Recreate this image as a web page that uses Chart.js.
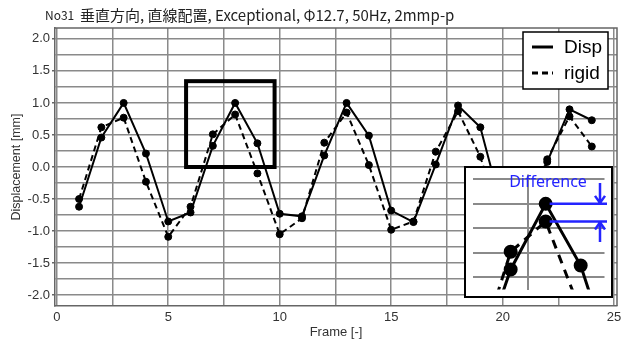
<!DOCTYPE html>
<html>
<head>
<meta charset="utf-8">
<script src="https://cdn.jsdelivr.net/npm/chart.js@4.4.1/dist/chart.umd.min.js"></script>
<style>
    html, body { margin: 0; padding: 0; background: #fff; }
    #wrap { position: relative; width: 628px; height: 345px; }
    #ChartInset { position: absolute; left: 464px; top: 166px; background: #fff; }
</style>
</head>
<body>
<div id="wrap">
    <canvas id="ChartMain" width="628" height="345"></canvas>
    <canvas id="ChartInset" width="149" height="132"></canvas>
</div>
<script>
// ---------------- data ------------------------
const frames = [1, 2, 3, 4, 5, 6, 7, 8, 9, 10, 11, 12, 13, 14, 15, 16, 17, 18, 19, 20, 21, 22, 23, 24];
const disp  = [-0.62, 0.46, 1.00, 0.21, -0.85, -0.71, 0.33, 1.00, 0.37, -0.73, -0.77, 0.18, 1.00, 0.49, -0.68, -0.86, 0.04, 0.96, 0.62, -0.70, -0.82, 0.08, 0.90, 0.73];
const rigid = [-0.50, 0.62, 0.77, -0.23, -1.09, -0.62, 0.51, 0.82, -0.10, -1.05, -0.80, 0.38, 0.85, 0.03, -0.98, -0.85, 0.24, 0.87, 0.16, -0.95, -0.80, 0.12, 0.79, 0.32];
const xTicks = [0, 5, 10, 15, 20, 25];
const yTicks = [-2.0, -1.5, -1.0, -0.5, 0.0, 0.5, 1.0, 1.5, 2.0];
const seriesNames = ['Disp', 'rigid'];
const titleSmall = 'No31';
const titleMain = '垂直方向, 直線配置, Exceptional, Φ12.7, 50Hz, 2mmp-p';
const diffLabel = 'Difference';
// zoomed region (data units)
const zoomBox = { x0: 5.8, x1: 9.77, y0: 0.0, y1: 1.34 };

const pts = (ys) => frames.map((f, i) => ({ x: f, y: ys[i] }));
const GRID = '#8a8a8a';

// ---------------- main chart ------------------------
const framePlugin = {
    id: 'frame',
    beforeDraw(chart) {
        const ctx = chart.ctx;
        ctx.save();
        ctx.fillStyle = '#222';
        ctx.textBaseline = 'middle';
        ctx.font = '12px "Noto Sans CJK JP"';
        ctx.fillText(titleSmall, 45, 15);
        ctx.font = '15px "Noto Sans CJK JP"';
        ctx.fillText(titleMain, 80, 15);
        ctx.restore();
    },
    afterDatasetsDraw(chart) {
        const { ctx, chartArea: a, scales: { x, y } } = chart;
        ctx.save();
        // plot frame top / right
        ctx.strokeStyle = '#666';
        ctx.lineWidth = 1.5;
        ctx.beginPath();
        ctx.moveTo(a.left, a.top); ctx.lineTo(a.right, a.top); ctx.lineTo(a.right, a.bottom);
        ctx.stroke();
        // zoom box
        ctx.strokeStyle = '#000';
        ctx.lineWidth = 4;
        const px0 = x.getPixelForValue(zoomBox.x0), px1 = x.getPixelForValue(zoomBox.x1);
        const py0 = y.getPixelForValue(zoomBox.y1), py1 = y.getPixelForValue(zoomBox.y0);
        ctx.strokeRect(px0, py0, px1 - px0, py1 - py0);
        ctx.restore();
    },
    afterDraw(chart) {
        // legend
        const ctx = chart.ctx;
        const lx = 523, ly = 32, lw = 85, lh = 57;
        ctx.save();
        ctx.fillStyle = '#fff';
        ctx.fillRect(lx, ly, lw, lh);
        ctx.strokeStyle = '#000';
        ctx.lineWidth = 1.5;
        ctx.strokeRect(lx, ly, lw, lh);
        ctx.font = '19px "Liberation Sans", Arial';
        ctx.textBaseline = 'middle';
        ctx.fillStyle = '#000';
        chart.data.datasets.forEach((ds, i) => {
            const yy = ly + 15 + i * 26;
            ctx.lineWidth = 3;
            ctx.setLineDash(ds.borderDash || []);
            ctx.beginPath();
            ctx.moveTo(lx + 9, yy); ctx.lineTo(lx + 30, yy);
            ctx.stroke();
            ctx.setLineDash([]);
            ctx.fillText(ds.label, lx + 41, yy + 1);
        });
        ctx.restore();
    }
};

new Chart(document.getElementById('ChartMain'), {
    type: 'line',
    data: {
        datasets: [{
            label: seriesNames[0],
            data: pts(disp),
            borderColor: '#000',
            backgroundColor: '#000',
            borderWidth: 2,
            pointRadius: 3.5,
            pointBorderWidth: 1
        }, {
            label: seriesNames[1],
            data: pts(rigid),
            borderColor: '#000',
            backgroundColor: '#000',
            borderWidth: 2,
            borderDash: [6, 4],
            pointRadius: 3.5,
            pointBorderWidth: 1
        }]
    },
    options: {
        responsive: false,
        animation: false,
        layout: { padding: { left: 0, right: 11, top: 28, bottom: 0 } },
        scales: {
            x: {
                type: 'linear',
                min: -0.08,
                max: 25.13,
                afterBuildTicks: (s) => {
                    const t = [];
                    for (let v = 0; v <= 25; v += 2.5) t.push({ value: v });
                    s.ticks = t;
                },
                afterFit: (s) => { s.height = 39; },
                ticks: {
                    color: '#333',
                    font: { family: '"Liberation Sans", Arial', size: 13 },
                    padding: 4,
                    maxRotation: 0,
                    autoSkip: false,
                    callback: (v) => xTicks.includes(v) ? String(v) : ''
                },
                grid: { color: GRID, lineWidth: 1.5, drawTicks: false },
                border: { display: true, color: '#666', width: 1.5 },
                title: {
                    display: true,
                    text: 'Frame [-]',
                    color: '#333',
                    font: { family: '"Liberation Sans", Arial', size: 13 },
                    padding: { top: 0, bottom: 5 }
                }
            },
            y: {
                min: -2.17,
                max: 2.17,
                afterBuildTicks: (s) => {
                    const t = [];
                    for (let v = -2; v <= 2.001; v += 0.25) t.push({ value: Math.round(v * 100) / 100 });
                    s.ticks = t;
                },
                afterFit: (s) => { s.width = 55; },
                ticks: {
                    color: '#333',
                    font: { family: '"Liberation Sans", Arial', size: 13 },
                    padding: 2,
                    autoSkip: false,
                    callback: (v) => yTicks.includes(v) ? v.toFixed(1) : ''
                },
                grid: {
                    color: GRID,
                    lineWidth: 1.5,
                    tickLength: 3,
                    tickColor: (c) => (c.tick && yTicks.includes(c.tick.value)) ? '#666' : 'rgba(0,0,0,0)'
                },
                border: { display: true, color: '#666', width: 1.5 },
                title: {
                    display: true,
                    text: 'Displacement [mm]',
                    color: '#333',
                    font: { family: '"Liberation Sans", Arial', size: 12.5 },
                    padding: { top: 9, bottom: 0 }
                }
            }
        },
        plugins: {
            legend: { display: false },
            tooltip: { enabled: false }
        }
    },
    plugins: [framePlugin]
});

// ---------------- inset (zoomed view) ------------------------
const insetPlugin = {
    id: 'inset',
    afterDraw(chart) {
        const { ctx, width, height, scales: { x, y } } = chart;
        ctx.save();
        const blue = '#2424ff';
        ctx.fillStyle = blue;
        ctx.font = '16px "Noto Sans", "Liberation Sans"';
        ctx.textAlign = 'center';
        ctx.textBaseline = 'middle';
        ctx.fillText(diffLabel, 84, 16);

        const xs = x.getPixelForValue(frames[7]) + 4;
        const yTop = y.getPixelForValue(disp[7]);
        const yBot = y.getPixelForValue(rigid[7]);
        const xe = width - 6;
        const ax = width - 13;
        ctx.strokeStyle = blue;
        ctx.lineWidth = 2.5;
        ctx.beginPath();
        ctx.moveTo(xs, yTop); ctx.lineTo(xe, yTop);
        ctx.moveTo(xs, yBot); ctx.lineTo(xe, yBot);
        // down arrow
        ctx.moveTo(ax, 17); ctx.lineTo(ax, yTop - 1);
        ctx.moveTo(ax - 5, yTop - 8); ctx.lineTo(ax, yTop - 1); ctx.lineTo(ax + 5, yTop - 8);
        // up arrow
        ctx.moveTo(ax, 76); ctx.lineTo(ax, yBot + 1);
        ctx.moveTo(ax - 5, yBot + 8); ctx.lineTo(ax, yBot + 1); ctx.lineTo(ax + 5, yBot + 8);
        ctx.stroke();

        ctx.strokeStyle = '#000';
        ctx.lineWidth = 2;
        ctx.strokeRect(1, 1, width - 2, height - 2);
        ctx.restore();
    }
};

new Chart(document.getElementById('ChartInset'), {
    type: 'line',
    data: {
        datasets: [{
            label: seriesNames[0],
            data: pts(disp),
            borderColor: '#000',
            backgroundColor: '#000',
            borderWidth: 3,
            pointRadius: 5.5
        }, {
            label: seriesNames[1],
            data: pts(rigid),
            borderColor: '#000',
            backgroundColor: '#000',
            borderWidth: 3,
            borderDash: [9, 7],
            pointRadius: 5.5
        }]
    },
    options: {
        responsive: false,
        animation: false,
        layout: { padding: 0 },
        scales: {
            x: {
                type: 'linear',
                min: 5.91,
                max: 9.68,
                afterBuildTicks: (s) => { s.ticks = [{ value: 7.5 }]; },
                afterFit: (s) => { s.height = 0; },
                ticks: { display: false },
                grid: { color: GRID, lineWidth: 2, drawTicks: false },
                border: { display: false }
            },
            y: {
                min: 0.125,
                max: 1.3,
                afterBuildTicks: (s) => { s.ticks = [0.25, 0.5, 0.75, 1.0, 1.25].map(v => ({ value: v })); },
                afterFit: (s) => { s.width = 0; },
                ticks: { display: false },
                grid: { color: GRID, lineWidth: 2, drawTicks: false },
                border: { display: false }
            }
        },
        plugins: {
            legend: { display: false },
            tooltip: { enabled: false }
        }
    },
    plugins: [insetPlugin]
});
</script>
</body>
</html>
